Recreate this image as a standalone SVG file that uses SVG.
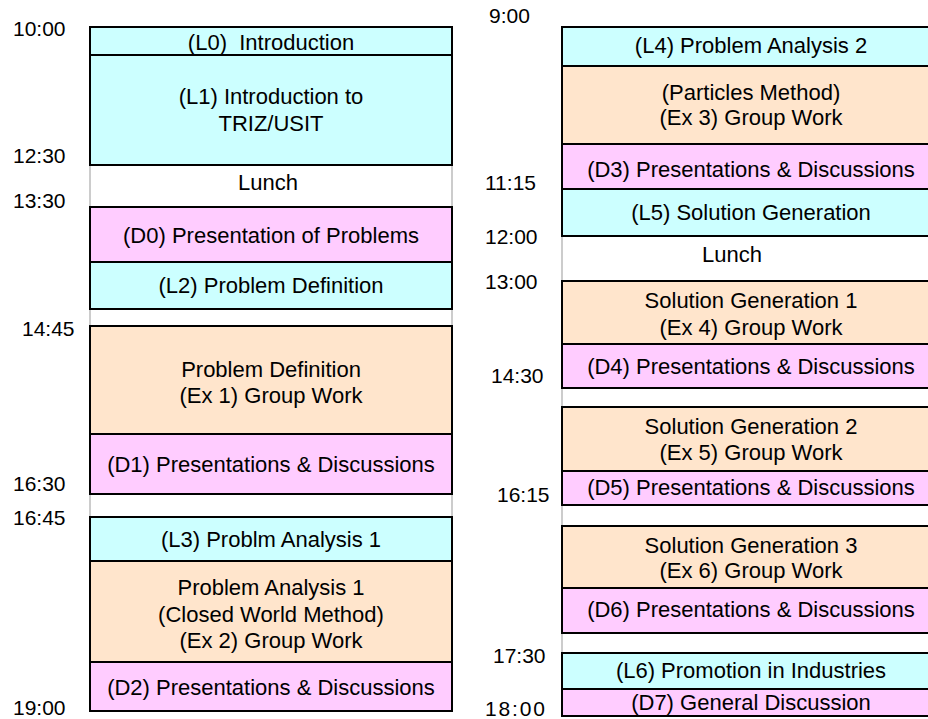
<svg xmlns="http://www.w3.org/2000/svg" width="928" height="719" viewBox="0 0 928 719">
<style>
.c{fill:#CCFFFF;stroke:#000;stroke-width:2}
.p{fill:#FFCCFF;stroke:#000;stroke-width:2}
.o{fill:#FFE5CC;stroke:#000;stroke-width:2}
.w{fill:#FFFFFF;stroke:#999;stroke-width:1}
text{font-family:"Liberation Sans",Arial,sans-serif;fill:#000;white-space:pre}
.t{font-size:22px;text-anchor:middle}
.tm{font-size:21px}
</style>
<rect x="0" y="0" width="928" height="719" fill="#fff"/>
<g id="times">
<text class="tm" x="13" y="36">10:00</text>
<text class="tm" x="13" y="163">12:30</text>
<text class="tm" x="13" y="208">13:30</text>
<text class="tm" x="22" y="336">14:45</text>
<text class="tm" x="13" y="491">16:30</text>
<text class="tm" x="13" y="525">16:45</text>
<text class="tm" x="13" y="715">19:00</text>
<text class="tm" x="489" y="23">9:00</text>
<text class="tm" x="485" y="190">11:15</text>
<text class="tm" x="485" y="244">12:00</text>
<text class="tm" x="485" y="289">13:00</text>
<text class="tm" x="491" y="383">14:30</text>
<text class="tm" x="497" y="502">16:15</text>
<text class="tm" x="493" y="663">17:30</text>
<text class="tm" x="485" y="716" textLength="60">18:00</text>
</g>
<g id="day1">
<g id="lunch1"><rect class="w" x="90" y="165" width="362" height="42"/><text class="t" x="268" y="190">Lunch</text></g>
<g id="gap1"><rect class="w" x="90" y="309" width="362" height="17"/></g>
<g id="gap2"><rect class="w" x="90" y="494" width="362" height="23"/></g>
<g id="L0"><rect class="c" x="90" y="27" width="362" height="28"/><text class="t" x="271" y="50" xml:space="preserve">(L0)  Introduction</text></g>
<g id="L1"><rect class="c" x="90" y="55" width="362" height="110"/><text class="t" x="271" y="104">(L1) Introduction to</text><text class="t" x="271" y="131">TRIZ/USIT</text></g>
<g id="D0"><rect class="p" x="90" y="207" width="362" height="55"/><text class="t" x="271" y="243">(D0) Presentation of Problems</text></g>
<g id="L2"><rect class="c" x="90" y="262" width="362" height="47"/><text class="t" x="271" y="293">(L2) Problem Definition</text></g>
<g id="Ex1"><rect class="o" x="90" y="326" width="362" height="108"/><text class="t" x="271" y="377">Problem Definition</text><text class="t" x="271" y="403">(Ex 1) Group Work</text></g>
<g id="D1"><rect class="p" x="90" y="434" width="362" height="60"/><text class="t" x="271" y="472">(D1) Presentations &amp; Discussions</text></g>
<g id="L3"><rect class="c" x="90" y="517" width="362" height="44"/><text class="t" x="271" y="547">(L3) Problm Analysis 1</text></g>
<g id="Ex2"><rect class="o" x="90" y="561" width="362" height="101"/><text class="t" x="271" y="595">Problem Analysis 1</text><text class="t" x="271" y="622">(Closed World Method)</text><text class="t" x="271" y="648">(Ex 2) Group Work</text></g>
<g id="D2"><rect class="p" x="90" y="662" width="362" height="49"/><text class="t" x="271" y="695">(D2) Presentations &amp; Discussions</text></g>
</g>
<g id="day2">
<g id="lunch2"><rect class="w" x="562" y="236" width="380" height="45"/><text class="t" x="732" y="262">Lunch</text></g>
<g id="gap3"><rect class="w" x="562" y="388" width="380" height="19"/></g>
<g id="gap4"><rect class="w" x="562" y="505" width="380" height="21"/></g>
<g id="gap5"><rect class="w" x="562" y="633" width="380" height="20"/></g>
<g id="L4"><rect class="c" x="562" y="27" width="380" height="39"/><text class="t" x="751" y="53">(L4) Problem Analysis 2</text></g>
<g id="Ex3"><rect class="o" x="562" y="66" width="380" height="78"/><text class="t" x="751" y="100">(Particles Method)</text><text class="t" x="751" y="125">(Ex 3) Group Work</text></g>
<g id="D3"><rect class="p" x="562" y="144" width="380" height="45"/><text class="t" x="751" y="177">(D3) Presentations &amp; Discussions</text></g>
<g id="L5"><rect class="c" x="562" y="189" width="380" height="47"/><text class="t" x="751" y="220">(L5) Solution Generation</text></g>
<g id="Ex4"><rect class="o" x="562" y="281" width="380" height="63"/><text class="t" x="751" y="308">Solution Generation 1</text><text class="t" x="751" y="335">(Ex 4) Group Work</text></g>
<g id="D4"><rect class="p" x="562" y="344" width="380" height="44"/><text class="t" x="751" y="374">(D4) Presentations &amp; Discussions</text></g>
<g id="Ex5"><rect class="o" x="562" y="407" width="380" height="64"/><text class="t" x="751" y="434">Solution Generation 2</text><text class="t" x="751" y="460">(Ex 5) Group Work</text></g>
<g id="D5"><rect class="p" x="562" y="471" width="380" height="34"/><text class="t" x="751" y="495">(D5) Presentations &amp; Discussions</text></g>
<g id="Ex6"><rect class="o" x="562" y="526" width="380" height="62"/><text class="t" x="751" y="553">Solution Generation 3</text><text class="t" x="751" y="578">(Ex 6) Group Work</text></g>
<g id="D6"><rect class="p" x="562" y="588" width="380" height="45"/><text class="t" x="751" y="617">(D6) Presentations &amp; Discussions</text></g>
<g id="L6"><rect class="c" x="562" y="653" width="380" height="36"/><text class="t" x="751" y="678">(L6) Promotion in Industries</text></g>
<g id="D7"><rect class="p" x="562" y="689" width="380" height="27"/><text class="t" x="751" y="710">(D7) General Discussion</text></g>
</g>
<g id="connectors"/>
</svg>
